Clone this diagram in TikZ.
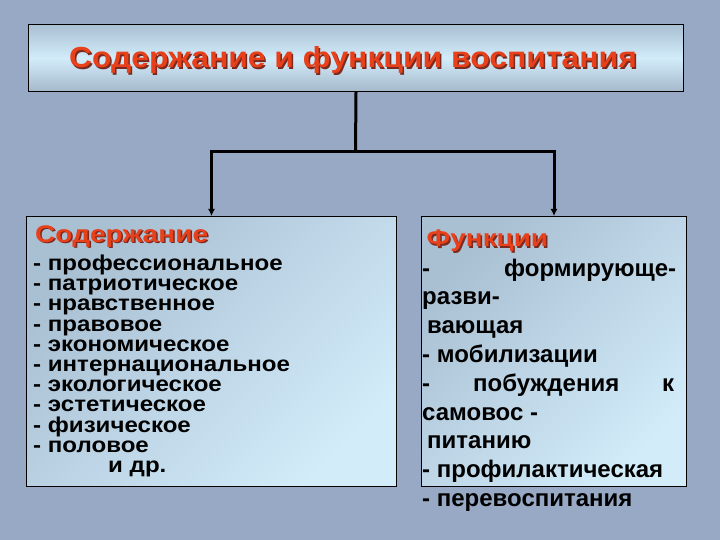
\documentclass[tikz,border=0pt]{standalone}
\usepackage{fontspec}
\setmainfont{Liberation Sans}
\usetikzlibrary{arrows.meta}
\definecolor{bg}{HTML}{97A9C4}
\definecolor{boxdark}{HTML}{A9BFD2}
\definecolor{boxlight}{HTML}{D2ECFA}
\definecolor{titlered}{HTML}{E8401A}
\definecolor{titleshadow}{HTML}{7A2A1E}
\newcommand{\wide}[2]{\scalebox{#1}[1]{#2}}
\tikzset{
  conn/.style={line width=3pt, black},
  arr/.style={conn, -{Latex[length=7pt,width=7pt]}},
  box/.style={draw=black, line width=1pt, inner sep=0pt, anchor=north west},
  head/.style={font=\fontsize{24}{28}\selectfont\bfseries, inner sep=0pt, anchor=base west},
  titletext/.style={font=\fontsize{29}{33}\selectfont\bfseries, inner sep=0pt, anchor=base},
  item/.style={font=\fontsize{24}{28}\selectfont\bfseries, inner sep=0pt, anchor=base west, text=black},
  litem/.style={font=\fontsize{21.5}{24}\selectfont\bfseries, inner sep=0pt, anchor=base west, text=black},
}
\begin{document}
\begin{tikzpicture}[x=1pt,y=-1pt]
\fill[bg] (0,0) rectangle (720,540);
\useasboundingbox (0,0) rectangle (720,540);
% title box
\node[box, minimum width=655pt, minimum height=67pt, top color=boxdark, bottom color=boxdark!90!gray, middle color=boxlight] (t) at (28,24) {};
\node[titletext, text=titleshadow] (tsh) at (354.5,69.5) {\wide{1.1}{Содержание и функции воспитания}};
\node[titletext, text=titlered] (tt) at (353,68) {\wide{1.1}{Содержание и функции воспитания}};
% boxes
\node[box, minimum width=370pt, minimum height=270pt, top color=boxdark, bottom color=boxlight, shading angle=45] (l) at (26,216) {};
\node[box, minimum width=265pt, minimum height=270pt, top color=boxdark, bottom color=boxlight, shading angle=45] (r) at (421,216) {};
% connectors
\coordinate (j) at (355.5,152);
\draw[conn] (t.south) -- (j);
\draw[arr] (j) -| (l.north);
\draw[arr] (j) -| (r.north);
% left content
\node[head, text=titleshadow] (lhs) at (36.5,243.5) {\wide{1.17}{Содержание}};
\node[head, text=titlered] (lh) at (35,242) {\wide{1.17}{Содержание}};
\foreach \s [count=\i] in {- профессиональное,- патриотическое,- нравственное,- правовое,- экономическое,- интернациональное,- экологическое,- эстетическое,- физическое,- половое,\hspace*{67pt}и др.}
  \node[litem] (li\i) at (33,{270.5+20.2*(\i-1)}) {\wide{1.12}{\s}};
% right content
\node[head, text=titleshadow] (rhs) at (428,248) {\wide{1.16}{Функции}};
\node[head, text=titlered] (rh) at (426.5,246.5) {\wide{1.16}{Функции}};
\foreach \s [count=\i] in {\hbox to 254pt{-\hfill формирующе-},разви-,\hspace*{5pt}вающая,- мобилизации,\hbox to 252pt{-\hfill побуждения\hfill к},самовос -,\hspace*{5pt}питанию,- профилактическая,- перевоспитания}
  \node[item] (ri\i) at (422,{276+28.8*(\i-1)}) {\s};
\end{tikzpicture}
\end{document}
